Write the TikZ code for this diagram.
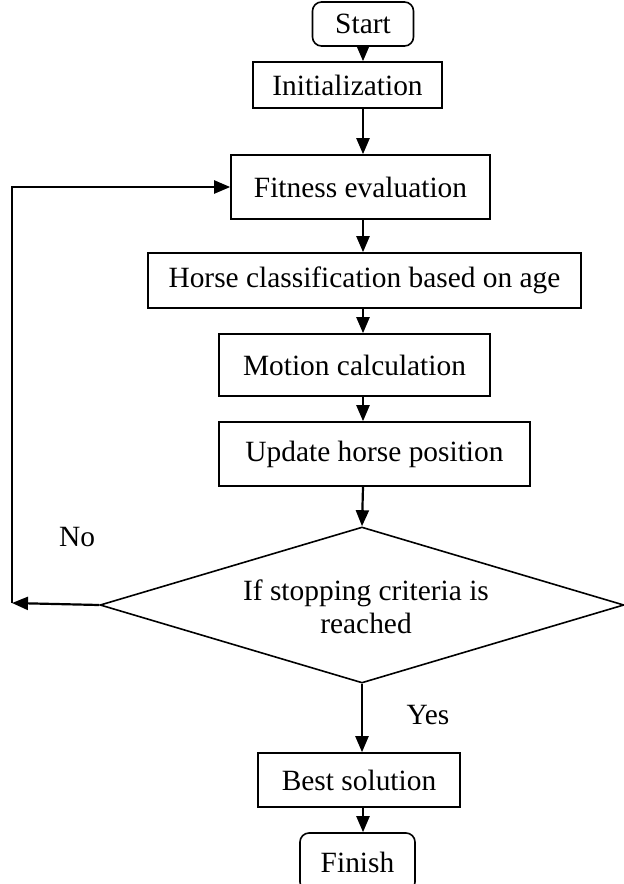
\documentclass[tikz,border=0pt]{standalone}
\usepackage{fontspec}
\setmainfont{Liberation Serif}
\usetikzlibrary{arrows.meta,shapes.geometric}

\begin{document}
\begin{tikzpicture}[x=1pt, y=-1pt, font=\fontsize{29.4}{33}\selectfont,
    box/.style={draw, line width=1.6pt, rectangle, inner sep=0pt},
    term/.style={box, rounded corners=9pt},
    flow/.style={-{Triangle[width=13pt,length=16pt]}, line width=2.2pt}]

    % Canvas
    \clip (0,0) rectangle (624,884);

    % Terminals
    \node[term, minimum width=101, minimum height=44] (start) at (363,24) {Start};
    \node[term, minimum width=115, minimum height=58] (finish) at (357.5,862) {Finish};

    % Process steps
    \node[box, minimum width=189, minimum height=46] (init) at (347.5,85) {Initialization};
    \node[box, minimum width=259, minimum height=64] (fit) at (360.5,187) {Fitness evaluation};
    \node[box, minimum width=433, minimum height=55] (cls) at (364.5,280.5) {Horse classification based on age};
    \node[box, minimum width=271, minimum height=62] (mot) at (354.5,365) {Motion calculation};
    \node[box, minimum width=311, minimum height=64] (upd) at (374.5,454) {Update horse position};
    \node[box, minimum width=202, minimum height=54] (best) at (359,780) {Best solution};

    % Decision
    \node[draw, line width=1.6pt, diamond, aspect=3.3, inner sep=0pt,
          minimum width=524, minimum height=156] (stop) at (362,605) {};
    \node[align=center] (stopTxt) at (366,607) {If stopping criteria is\\reached};

    % Main flow
    \draw[flow] (start.south) -- (init.north -| start.south);
    \draw[flow] (init.south -| start.south) -- (fit.north -| start.south);
    \draw[flow] (fit.south -| start.south) -- (cls.north -| start.south);
    \draw[flow] (cls.south -| start.south) -- (mot.north -| start.south);
    \draw[flow] (mot.south -| start.south) -- (upd.north -| start.south);
    \draw[flow] (upd.south -| start.south) -- (stop.north);
    \draw[flow] (stop.south) -- (best.north -| stop.south);
    \draw[flow] (best.south -| start.south) -- (finish.north -| start.south);

    % Loop back
    \coordinate (back) at (12,603);
    \draw[flow] (stop.west) -- (back);
    \draw[flow] (back) |- (fit.west);

    % Branch labels
    \node (no) at (77,537) {No};
    \node (yes) at (428,715) {Yes};

\end{tikzpicture}
\end{document}
